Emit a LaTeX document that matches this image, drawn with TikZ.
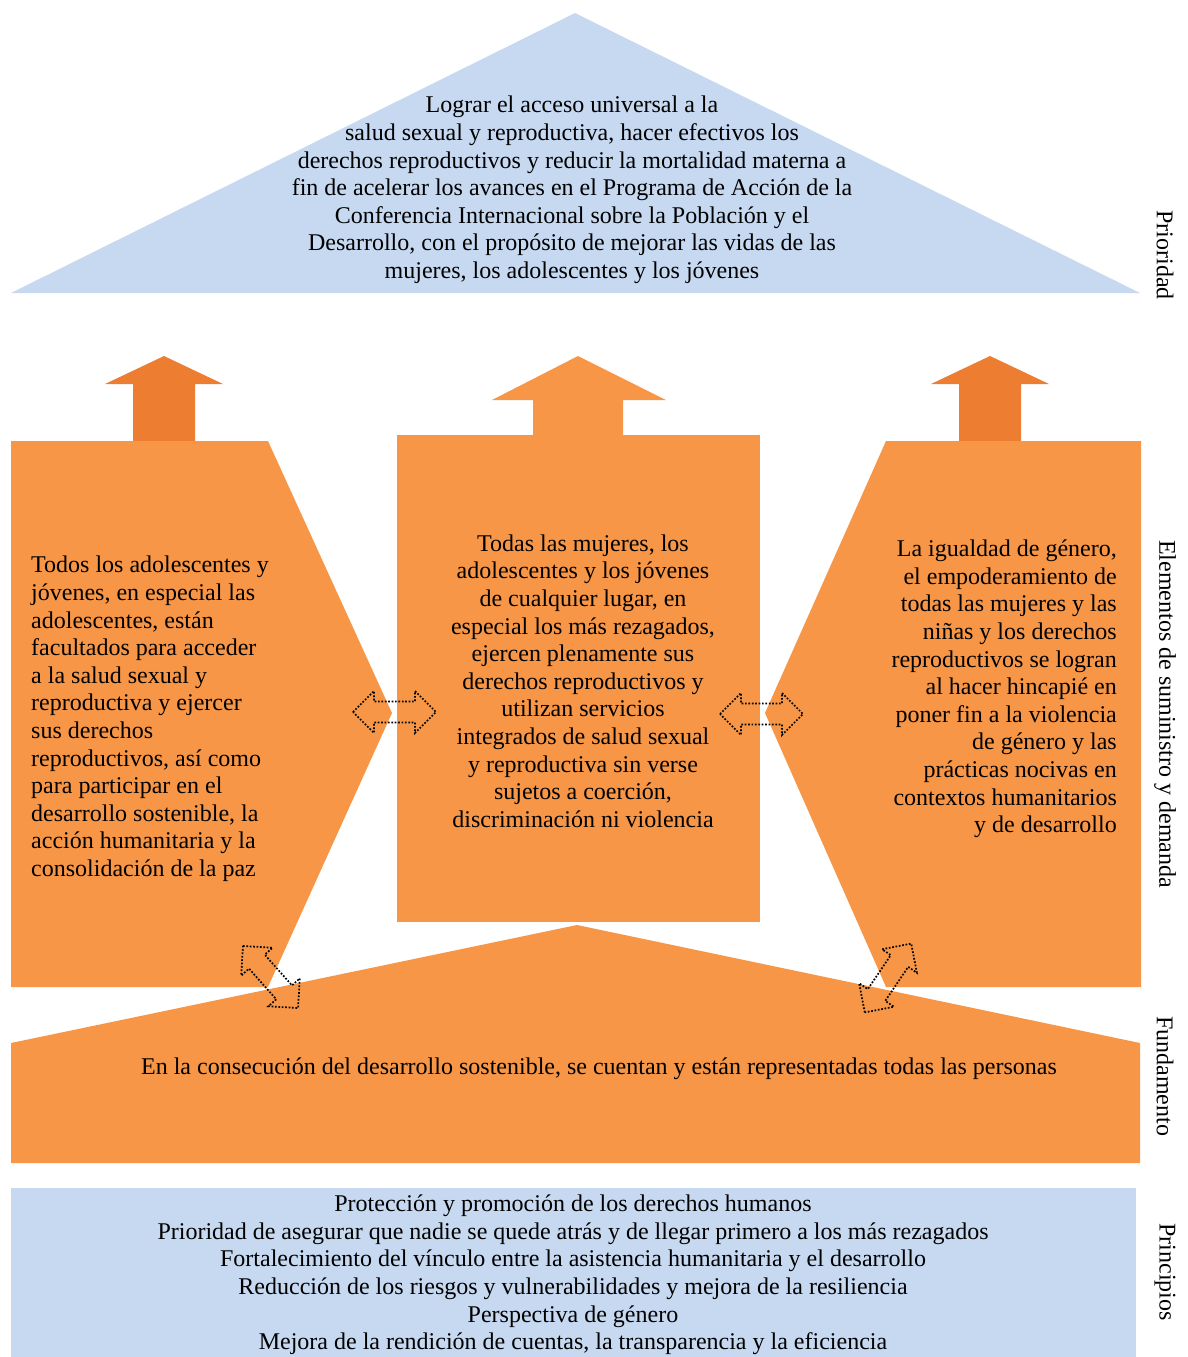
\documentclass[tikz,border=0pt]{standalone}
\usepackage{fontspec}
\setmainfont{Liberation Serif}
\definecolor{lblue}{HTML}{C6D9F1}
\definecolor{lorange}{HTML}{F79646}
\definecolor{dorange}{HTML}{ED7D31}
\tikzset{
  txt/.style={inner sep=0pt, font=\fontsize{24}{27.6}\selectfont, text=black},
  side/.style={inner sep=0pt, rotate=-90, font=\fontsize{24}{27}\selectfont},
  dotarrow/.style={draw=black, line width=1.7pt, dash pattern=on 1.7pt off 1.7pt},
}
\newcommand{\dblarrow}[2]{%
  \begin{scope}[shift={#1}, rotate=#2]
    \draw[dotarrow] (-41.5,0) -- (-20.5,-21) -- (-20.5,-10.5) -- (20.5,-10.5) -- (20.5,-21)
      -- (41.5,0) -- (20.5,21) -- (20.5,10.5) -- (-20.5,10.5) -- (-20.5,21) -- cycle;
  \end{scope}}
\begin{document}
\begin{tikzpicture}[x=1pt,y=-1pt]
\useasboundingbox (0,0) rectangle (1188,1357);
% top triangle
\fill[lblue] (575,13) -- (1140,293) -- (11,293) -- cycle;
\node[txt, align=center] (goal) at (572,190) {Lograr el acceso universal a la\\
salud sexual y reproductiva, hacer efectivos los\\
derechos reproductivos y reducir la mortalidad materna a\\
fin de acelerar los avances en el Programa de Acción de la\\
Conferencia Internacional sobre la Población y el\\
Desarrollo, con el propósito de mejorar las vidas de las\\
mujeres, los adolescentes y los jóvenes};
% up arrows
\fill[dorange] (164,356) -- (223,384) -- (195,384) -- (195,442) -- (133,442) -- (133,384) -- (105,384) -- cycle;
\fill[lorange] (578,356) -- (666,400) -- (623,400) -- (623,437) -- (533,437) -- (533,400) -- (492,400) -- cycle;
\fill[dorange] (990,356) -- (1049,384) -- (1021,384) -- (1021,442) -- (959,442) -- (959,384) -- (931,384) -- cycle;
% left panel
\fill[lorange] (11,441) -- (268,441) -- (392,713) -- (268,987) -- (11,987) -- cycle;
% right panel
\fill[lorange] (886,441) -- (1141,441) -- (1141,987) -- (886,987) -- (765,713) -- cycle;
% center panel
\fill[lorange] (397,435) rectangle (760,922);
% foundation
\fill[lorange] (11,1043) -- (577,925) -- (1140,1043) -- (1140,1163) -- (11,1163) -- cycle;
% principles
\fill[lblue] (11,1188) rectangle (1136,1357);

\node[txt, align=left, anchor=west] (left) at (31,719) {Todos los adolescentes y\\
jóvenes, en especial las\\
adolescentes, están\\
facultados para acceder\\
a la salud sexual y\\
reproductiva y ejercer\\
sus derechos\\
reproductivos, así como\\
para participar en el\\
desarrollo sostenible, la\\
acción humanitaria y la\\
consolidación de la paz};
\node[txt, align=center] (center) at (583,681) {Todas las mujeres, los\\
adolescentes y los jóvenes\\
de cualquier lugar, en\\
especial los más rezagados,\\
ejercen plenamente sus\\
derechos reproductivos y\\
utilizan servicios\\
integrados de salud sexual\\
y reproductiva sin verse\\
sujetos a coerción,\\
discriminación ni violencia};
\node[txt, align=right, anchor=east] (right) at (1117,689) {La igualdad de género,\\
el empoderamiento de\\
todas las mujeres y las\\
niñas y los derechos\\
reproductivos se logran\\
al hacer hincapié en\\
poner fin a la violencia\\
de género y las\\
prácticas nocivas en\\
contextos humanitarios\\
y de desarrollo};
\node[txt] (found) at (599,1069) {En la consecución del desarrollo sostenible, se cuentan y están representadas todas las personas};
\node[txt, align=center] (princ) at (573,1275) {Protección y promoción de los derechos humanos\\
Prioridad de asegurar que nadie se quede atrás y de llegar primero a los más rezagados\\
Fortalecimiento del vínculo entre la asistencia humanitaria y el desarrollo\\
Reducción de los riesgos y vulnerabilidades y mejora de la resiliencia\\
Perspectiva de género\\
Mejora de la rendición de cuentas, la transparencia y la eficiencia};

% dotted double arrows
\dblarrow{(394.5,712)}{0}
\dblarrow{(761.5,714)}{0}
\dblarrow{(270.5,977)}{-48.4}
\dblarrow{(888,978)}{56}

% side labels
\node[side] (l1) at (1165,255) {Prioridad};
\node[side] (l2) at (1165,714) {Elementos de suministro y demanda};
\node[side] (l3) at (1165,1076) {Fundamento};
\node[side] (l4) at (1165,1272) {Principios};
\end{tikzpicture}
\end{document}
